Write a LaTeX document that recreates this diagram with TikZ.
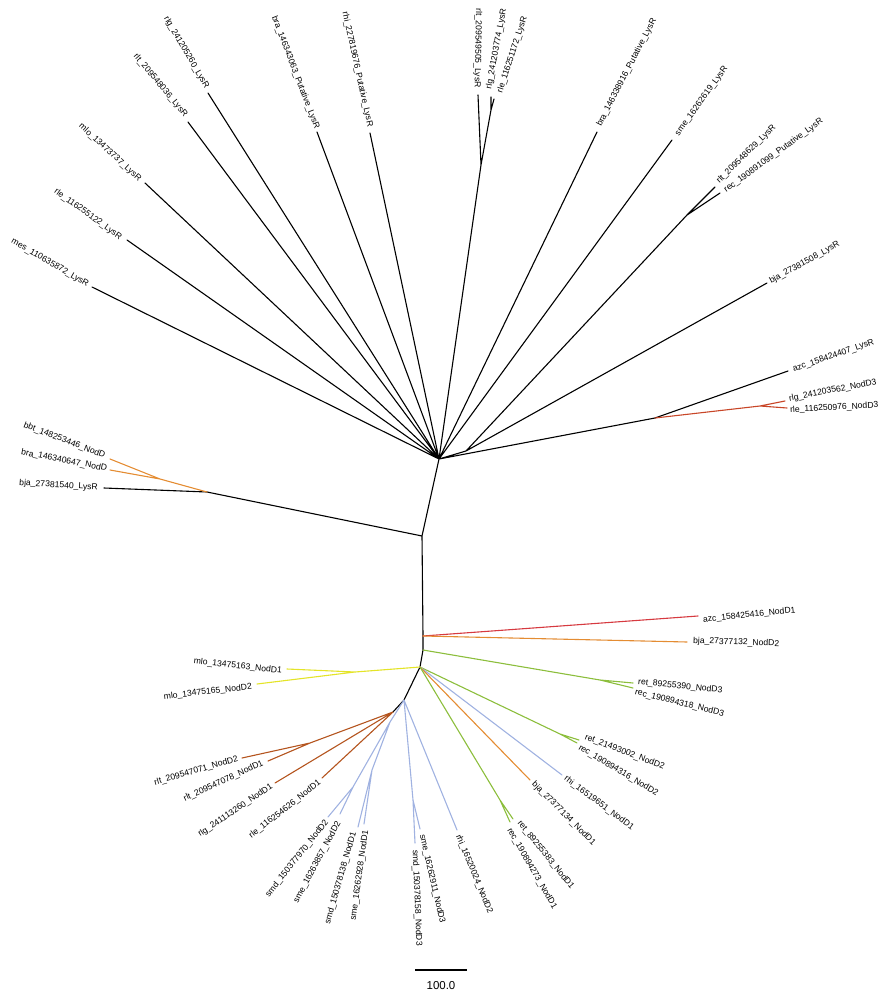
\documentclass[tikz,border=0pt]{standalone}
\usepackage{fontspec}
\setmainfont{Liberation Sans}
\definecolor{cred}{RGB}{214,58,64}
\definecolor{cred2}{RGB}{200,70,40}
\definecolor{corg}{RGB}{228,140,50}
\definecolor{cbrn}{RGB}{180,84,30}
\definecolor{cyel}{RGB}{228,228,40}
\definecolor{cgrn}{RGB}{140,190,60}
\definecolor{cblu}{RGB}{160,178,225}
\tikzset{
  lab/.style={font=\fontsize{8.6}{9}\selectfont, inner sep=0pt},
  lw/.style={lab, anchor=west},
  le/.style={lab, anchor=east},
  br/.style={line width=1.1pt, line cap=round, line join=round},
}
\begin{document}
\begin{tikzpicture}[x=1pt,y=-1pt]
\useasboundingbox (0,0) rectangle (890,1000);
% internal nodes
\coordinate (R) at (439,459);
\coordinate (iR2) at (466,451);
\coordinate (itrio) at (481,165);
\coordinate (irr) at (491,110);
\coordinate (ipair) at (687,215);
\coordinate (iazc) at (655,418);
\coordinate (ired) at (760,406);
\coordinate (imid) at (422,536);
\coordinate (ileft) at (207,492);
\coordinate (ior) at (160,479);
\coordinate (iro) at (423,636);
\coordinate (ig) at (423,650);
\coordinate (igp) at (600,680);
\coordinate (ibot) at (420,667);
\coordinate (iy) at (355,672);
\coordinate (ig2) at (560,734);
\coordinate (ig3) at (500,800);
\coordinate (ib) at (404,700);
\coordinate (ibr) at (393,712);
\coordinate (ib3) at (413,800);
\coordinate (ibs) at (390,722);
\coordinate (ibs2) at (353,787);
\coordinate (ibs1) at (372,770);
\coordinate (irlt) at (310,743);
% leaf tips
\coordinate (t1) at (188,122);
\coordinate (t2) at (208,93);
\coordinate (t3) at (145,183);
\coordinate (t4) at (127,240);
\coordinate (t5) at (92,287);
\coordinate (t6) at (317,132);
\coordinate (t7) at (370,133);
\coordinate (t8) at (478,95);
\coordinate (t9) at (491,97);
\coordinate (t10) at (494,99);
\coordinate (t11) at (597,132);
\coordinate (t12) at (672,140);
\coordinate (t13) at (715,187);
\coordinate (t14) at (720,193);
\coordinate (t15) at (767,283);
\coordinate (t16) at (788,371);
\coordinate (t17) at (785,401);
\coordinate (t18) at (787,408);
\coordinate (t19) at (104,488);
\coordinate (t20) at (110,459);
\coordinate (t21) at (110,470);
\coordinate (t22) at (698,616);
\coordinate (t23) at (687,642);
\coordinate (t24) at (633,683);
\coordinate (t25) at (633,688);
\coordinate (t26) at (287,669);
\coordinate (t27) at (257,684);
\coordinate (t28) at (579,740);
\coordinate (t29) at (577,743);
\coordinate (t30) at (562,775);
\coordinate (t31) at (530,780);
\coordinate (t32) at (513,819);
\coordinate (t33) at (510,822);
\coordinate (t34) at (457,830);
\coordinate (t35) at (420,829);
\coordinate (t36) at (415,843);
\coordinate (t37) at (328,817);
\coordinate (t38) at (340,814);
\coordinate (t39) at (358,827);
\coordinate (t40) at (364,824);
\coordinate (t41) at (242,758);
\coordinate (t42) at (268,761);
\coordinate (t43) at (275,783);
\coordinate (t44) at (322,778);
% black branches
\draw[br] (R) -- (t1) (R) -- (t2) (R) -- (t3) (R) -- (t4) (R) -- (t5)
  (R) -- (t6) (R) -- (t7) (R) -- (itrio) (itrio) -- (t8) (itrio) -- (irr)
  (irr) -- (t9) (irr) -- (t10) (R) -- (t11) (R) -- (t12) (R) -- (iR2)
  (iR2) -- (ipair) (ipair) -- (t13) (ipair) -- (t14) (iR2) -- (t15)
  (R) -- (iazc) (iazc) -- (t16)
  (R) -- (imid) (imid) -- (ileft) (ileft) -- (t19) (imid) -- (iro)
  (iro) -- (ig) (ig) -- (ibot) (ibot) -- (ib) (ib) -- (ibr);
\draw[br, cred2] (iazc) -- (ired) (ired) -- (t17) (ired) -- (t18);
\draw[br, corg] (ileft) -- (ior) (ior) -- (t20) (ior) -- (t21);
\draw[br, cred] (iro) -- (t22);
\draw[br, corg] (iro) -- (t23);
\draw[br, cgrn] (ig) -- (igp) (igp) -- (t24) (igp) -- (t25);
\draw[br, cyel] (ibot) -- (iy) (iy) -- (t26) (iy) -- (t27);
\draw[br, cgrn] (ibot) -- (ig2) (ig2) -- (t28) (ig2) -- (t29);
\draw[br, cblu] (ibot) -- (t30);
\draw[br, corg] (ibot) -- (t31);
\draw[br, cgrn] (ibot) -- (ig3) (ig3) -- (t32) (ig3) -- (t33);
\draw[br, cblu] (ib) -- (t34) (ib) -- (ib3) (ib3) -- (t35) (ib3) -- (t36)
  (ib) -- (ibs) (ibs) -- (ibs2) (ibs2) -- (t37) (ibs2) -- (t38)
  (ibs) -- (ibs1) (ibs1) -- (t39) (ibs1) -- (t40);
\draw[br, cbrn] (ibr) -- (irlt) (irlt) -- (t41) (irlt) -- (t42)
  (ibr) -- (t43) (ibr) -- (t44);
% labels
\node[le, rotate=-50] (l1) at (186,116) {rlt\_209548036\_LysR};
\node[le, rotate=-59.7] (l2) at (207,88) {rlg\_241205260\_LysR};
\node[le, rotate=-42.4] (l3) at (140,180) {mlo\_13473737\_LysR};
\node[le, rotate=-35.6] (l4) at (121,238) {rle\_116255122\_LysR};
\node[le, rotate=-30] (l5) at (88,285) {mes\_110635872\_LysR};
\node[le, rotate=-69] (l6) at (317,129) {bra\_146343063\_Putative\_LysR};
\node[le, rotate=-77.6] (l7) at (370,127) {rhi\_227819676\_Putative\_LysR};
\node[le, rotate=-91] (l8) at (477,88) {rlt\_209549505\_LysR};
\node[lw, rotate=79.4] (l9) at (489,89) {rlg\_241203774\_LysR};
\node[lw, rotate=72] (l10) at (500,93) {rle\_116251172\_LysR};
\node[lw, rotate=62.6] (l11) at (599,126) {bra\_146338916\_Putative\_LysR};
\node[lw, rotate=54] (l12) at (677,135) {sme\_16262619\_LysR};
\node[lw, rotate=44.5] (l13) at (718,182) {rlt\_209548629\_LysR};
\node[lw, rotate=36] (l14) at (725,191) {rec\_190891099\_Putative\_LysR};
\node[lw, rotate=29] (l15) at (770,282) {bja\_27381508\_LysR};
\node[lw, rotate=19] (l16) at (793,370) {azc\_158424407\_LysR};
\node[lw, rotate=11] (l17) at (789,399) {rlg\_241203562\_NodD3};
\node[lw, rotate=3] (l18) at (790,410) {rle\_116250976\_NodD3};
\node[le, rotate=-3.7] (l19) at (98,488) {bja\_27381540\_LysR};
\node[le, rotate=-21] (l20) at (105,456) {bbt\_148253446\_NodD};
\node[le, rotate=-11] (l21) at (107,469) {bra\_146340647\_NodD};
\node[lw, rotate=6] (l22) at (703,620) {azc\_158425416\_NodD1};
\node[lw, rotate=-2] (l23) at (693,641) {bja\_27377132\_NodD2};
\node[lw, rotate=-6] (l24) at (638,682) {ret\_89255390\_NodD3};
\node[lw, rotate=-14] (l25) at (635,692) {rec\_190894318\_NodD3};
\node[le, rotate=-6] (l26) at (282,671) {mlo\_13475163\_NodD1};
\node[le, rotate=6.4] (l27) at (252,687) {mlo\_13475165\_NodD2};
\node[lw, rotate=-21] (l28) at (585,737) {ret\_21493002\_NodD2};
\node[lw, rotate=-31] (l29) at (579,747) {rec\_190894316\_NodD2};
\node[lw, rotate=-36.6] (l30) at (565,778) {rhi\_16519651\_NodD1};
\node[lw, rotate=-45] (l31) at (533,783) {bja\_27377134\_NodD1};
\node[lw, rotate=-51] (l32) at (519,822) {ret\_89255383\_NodD1};
\node[lw, rotate=-60] (l33) at (509,829) {rec\_190894273\_NodD1};
\node[lw, rotate=-67.5] (l34) at (458,835) {rhi\_16520024\_NodD2};
\node[lw, rotate=-77] (l35) at (422,835) {sme\_16262911\_NodD3};
\node[lw, rotate=-87.7] (l36) at (415,850) {smd\_150378158\_NodD3};
\node[le, rotate=51.5] (l37) at (327,821) {smd\_150377970\_NodD2};
\node[le, rotate=61.7] (l38) at (339,822) {sme\_16263857\_NodD2};
\node[le, rotate=74] (l39) at (354,832) {smd\_150378138\_NodD1};
\node[le, rotate=82] (l40) at (366,830) {sme\_16262928\_NodD1};
\node[le, rotate=16] (l41) at (238,759) {rlt\_209547071\_NodD2};
\node[le, rotate=24.6] (l42) at (263,763) {rlt\_209547078\_NodD1};
\node[le, rotate=34] (l43) at (272,786) {rlg\_241113260\_NodD1};
\node[le, rotate=38] (l44) at (320,782) {rle\_116254626\_NodD1};
% scale bar
\coordinate (sa) at (415,970);
\coordinate (sb) at (467,970);
\draw[line width=1.1pt] (sa) -- (sb);
\node[font=\fontsize{11.5}{12}\selectfont, inner sep=0pt] (sl) at (441,986) {100.0};
\end{tikzpicture}
\end{document}
